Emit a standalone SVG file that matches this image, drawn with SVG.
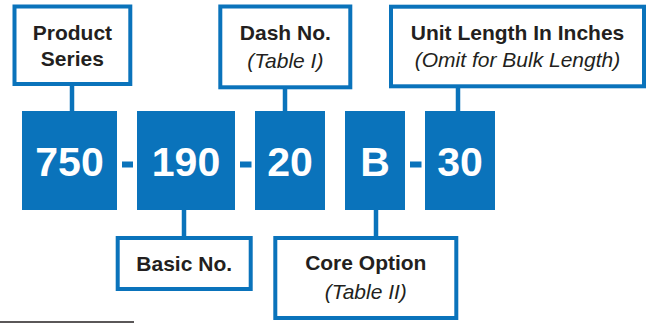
<svg xmlns="http://www.w3.org/2000/svg" width="647" height="323" viewBox="0 0 647 323">
  <style>
    .label { fill: #fff; stroke: #0a73bb; stroke-width: 4; }
    .seg { fill: #0a73bb; }
    .num { font-family: "Liberation Sans", Arial, sans-serif; font-weight: bold; font-size: 41px; fill: #fff; text-anchor: middle; }
    .title { font-family: "Liberation Sans", Arial, sans-serif; font-weight: bold; font-size: 21px; fill: #231f20; text-anchor: middle; }
    .note { font-family: "Liberation Sans", Arial, sans-serif; font-style: italic; font-size: 21px; fill: #231f20; text-anchor: middle; }
    .link { stroke: #0a73bb; stroke-width: 4.5; fill: none; }
  </style>
  <rect width="647" height="323" fill="#fff"/>

  <!-- leader lines between callouts and code segments -->
  <g id="connectors">
    <line class="link" x1="72" y1="84" x2="72" y2="112"/>
    <line class="link" x1="285" y1="87" x2="285" y2="112"/>
    <line class="link" x1="458" y1="86" x2="458" y2="112"/>
    <line class="link" x1="184" y1="209" x2="184" y2="238"/>
    <line class="link" x1="376" y1="209" x2="376" y2="238"/>
  </g>

  <!-- part number segments -->
  <g id="seg-750">
    <rect class="seg" x="22" y="111" width="95" height="99"/>
    <text class="num" x="69.5" y="176">750</text>
  </g>
  <g id="seg-190">
    <rect class="seg" x="137" y="111" width="98" height="99"/>
    <text class="num" x="186" y="176">190</text>
  </g>
  <g id="seg-20">
    <rect class="seg" x="255" y="111" width="70" height="99"/>
    <text class="num" x="290" y="176">20</text>
  </g>
  <g id="seg-B">
    <rect class="seg" x="345" y="111" width="60" height="99"/>
    <text class="num" x="375" y="176">B</text>
  </g>
  <g id="seg-30">
    <rect class="seg" x="425" y="111" width="70" height="99"/>
    <text class="num" x="460" y="176">30</text>
  </g>

  <!-- hyphens -->
  <g id="hyphens">
    <rect class="seg" x="122" y="161.5" width="11" height="6"/>
    <rect class="seg" x="240" y="161.5" width="11.5" height="6"/>
    <rect class="seg" x="410" y="161.5" width="11.5" height="6"/>
  </g>

  <!-- callouts -->
  <g id="product-series">
    <rect class="label" x="14.5" y="6.5" width="115.8" height="77.5"/>
    <text class="title" x="72.4" y="40">Product</text>
    <text class="title" x="72.4" y="66">Series</text>
  </g>
  <g id="dash-no">
    <rect class="label" x="220.3" y="6.5" width="130" height="80.8"/>
    <text class="title" x="285.3" y="40">Dash No.</text>
    <text class="note" x="285.3" y="68">(Table I)</text>
  </g>
  <g id="unit-length">
    <rect class="label" x="391" y="6.7" width="253" height="79.6"/>
    <text class="title" x="517.5" y="40">Unit Length In Inches</text>
    <text class="note" x="517.5" y="67">(Omit for Bulk Length)</text>
  </g>
  <g id="basic-no">
    <rect class="label" x="117.7" y="238" width="133" height="51"/>
    <text class="title" x="184.2" y="271">Basic No.</text>
  </g>
  <g id="core-option">
    <rect class="label" x="275.3" y="238" width="181" height="80"/>
    <text class="title" x="365.8" y="270">Core Option</text>
    <text class="note" x="365.8" y="299">(Table II)</text>
  </g>

  <!-- rule at lower left -->
  <line x1="0" y1="322" x2="134" y2="322" stroke="#231f20" stroke-width="1.5"/>
</svg>
